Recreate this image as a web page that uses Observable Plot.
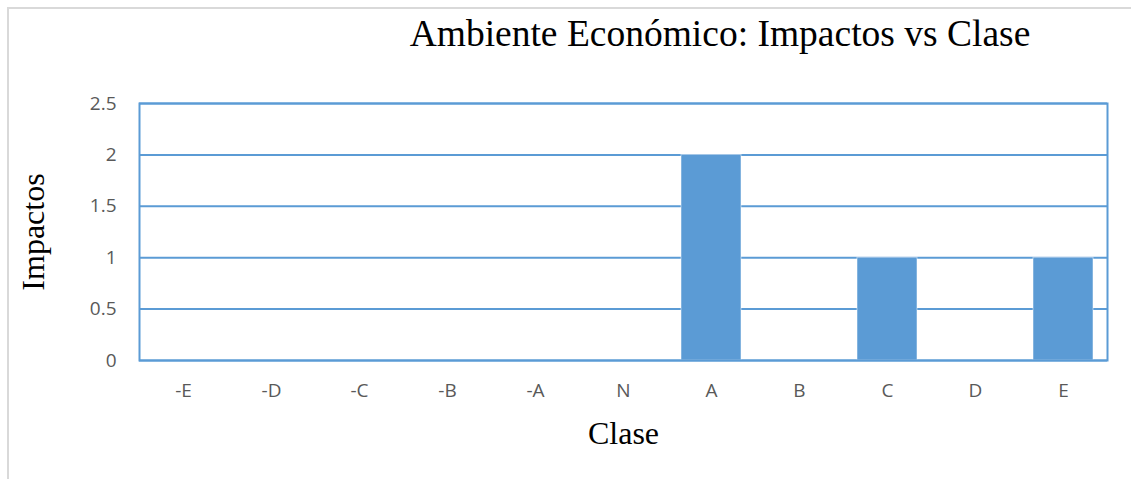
<!DOCTYPE html>
<html>
<head>
<meta charset="utf-8">
<script src="https://cdn.jsdelivr.net/npm/d3@7"></script>
<script src="https://cdn.jsdelivr.net/npm/@observablehq/plot@0.6"></script>
<style>
  html, body { margin: 0; padding: 0; background: #fff; }
  #wrap { position: relative; width: 1131px; height: 479px; overflow: hidden; }
  #border { position: absolute; left: 7px; top: 7px; right: -10px; bottom: -10px;
            border-left: 2px solid #d9d9d9; border-top: 2px solid #d9d9d9; }
  #title { position: absolute; left: 0; top: 12px; width: 1440px; text-align: center;
           font-family: "Liberation Serif", serif; font-size: 37.5px; color: #000; white-space: nowrap; }
  #chart { position: absolute; left: 0; top: 0; }
</style>
</head>
<body>
<div id="wrap">
  <div id="border"></div>
  <div id="chart"></div>
  <div id="title">Ambiente Económico: Impactos vs Clase</div>
</div>
<script>
const categories = ["-E", "-D", "-C", "-B", "-A", "N", "A", "B", "C", "D", "E"];
const impactos = [0, 0, 0, 0, 0, 0, 2, 0, 1, 0, 1];
const yTicks = [0, 0.5, 1, 1.5, 2, 2.5];
const titleText = "Ambiente Económico: Impactos vs Clase";
const xLabel = "Clase";
const yLabel = "Impactos";

const data = categories.map((c, i) => ({clase: c, impactos: impactos[i]}));
const blue = "#5b9bd5";

const plot = Plot.plot({
  width: 1131,
  height: 479,
  marginLeft: 139,
  marginRight: 24,
  marginTop: 103,
  marginBottom: 119,
  style: {fontFamily: "'Open Sans', sans-serif", fontSize: "19px", color: "#595959", background: "transparent"},
  x: {domain: categories, paddingInner: 0.32, paddingOuter: 0.16, label: null},
  y: {domain: [0, 2.5], label: null},
  marks: [
    Plot.ruleY(yTicks, {stroke: blue, strokeWidth: 2}),
    Plot.barY(data, {x: "clase", y: "impactos", fill: blue, stroke: "#ffffff", strokeOpacity: 0.5, strokeWidth: 1}),
    Plot.frame({stroke: blue, strokeWidth: 2}),
    Plot.axisY(yTicks, {tickSize: 0, tickPadding: 23, tickFormat: d => String(d), fill: "#595959", fontSize: 19}),
    Plot.axisX({tickSize: 0, tickPadding: 23, fill: "#595959", fontSize: 19}),
    Plot.text([xLabel], {frameAnchor: "bottom", dy: 83, fontFamily: "'Liberation Serif', serif", fontSize: 32, fill: "#000"}),
    Plot.text([yLabel], {frameAnchor: "left", textAnchor: "middle", dx: -106, rotate: -90, fontFamily: "'Liberation Serif', serif", fontSize: 32, fill: "#000"})
  ]
});
document.getElementById("chart").appendChild(plot);
</script>
</body>
</html>
